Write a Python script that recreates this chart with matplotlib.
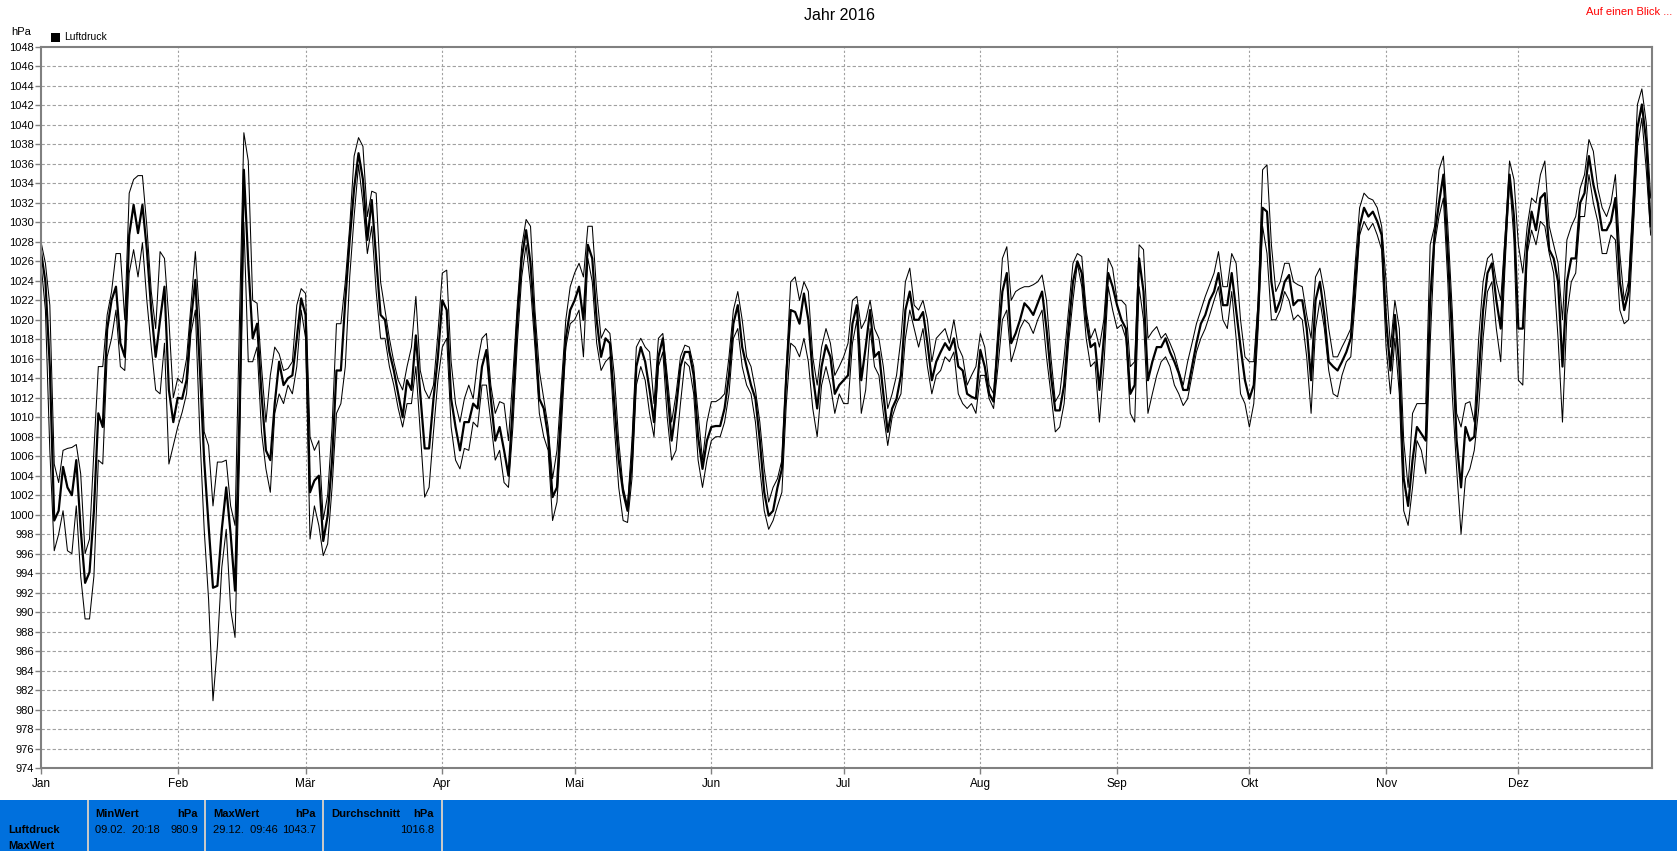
import matplotlib
matplotlib.use("Agg")
import matplotlib.pyplot as plt
from matplotlib.patches import Rectangle

W, H = 1677, 851

# Luftdruck 2016, Tageswerte (hPa), Tag 0 = 01.01.
druck_mittel = [
    1027.0, 1023.9, 1015.2, 999.4, 1000.4, 1004.9, 1002.8, 1002.0, 1005.6, 998.5,
    993.0, 994.1, 1000.4, 1010.4, 1009.0, 1019.0, 1022.0, 1023.4, 1017.6, 1016.2,
    1028.7, 1031.8, 1028.9, 1031.8, 1027.2, 1021.0, 1016.2, 1020.0, 1023.4, 1012.8,
    1009.5, 1012.0, 1011.9, 1013.8, 1020.0, 1024.1, 1015.2, 1005.6, 998.9, 992.5,
    992.7, 998.5, 1002.8, 998.0, 992.2, 1010.4, 1035.4, 1025.8, 1018.1, 1019.6,
    1012.4, 1006.6, 1005.6, 1011.4, 1015.7, 1013.3, 1014.0, 1014.3, 1018.1, 1022.2,
    1020.5, 1002.3, 1003.5, 1004.0, 997.3, 999.9, 1005.6, 1014.8, 1014.8, 1022.0,
    1028.2, 1033.5, 1037.1, 1034.4, 1028.2, 1032.3, 1026.3, 1020.5, 1020.0, 1016.7,
    1014.8, 1012.4, 1010.0, 1013.8, 1012.8, 1018.4, 1012.4, 1006.8, 1006.8, 1011.9,
    1016.2, 1022.0, 1021.0, 1011.9, 1009.0, 1006.6, 1009.5, 1009.5, 1011.4, 1010.9,
    1015.2, 1016.9, 1011.9, 1007.6, 1009.0, 1006.6, 1004.0, 1011.4, 1020.0, 1026.3,
    1029.2, 1025.8, 1019.1, 1011.9, 1010.9, 1008.0, 1001.8, 1002.8, 1011.4, 1018.1,
    1021.0, 1022.0, 1023.4, 1020.0, 1027.7, 1026.3, 1020.0, 1016.2, 1018.1, 1017.6,
    1011.4, 1005.6, 1002.3, 1000.4, 1005.6, 1015.2, 1017.2, 1015.7, 1012.8, 1009.5,
    1016.2, 1018.1, 1012.8, 1007.6, 1010.9, 1015.2, 1016.7, 1016.7, 1014.3, 1008.0,
    1004.7, 1007.6, 1009.0, 1009.1, 1009.1, 1010.9, 1014.3, 1019.6, 1021.5, 1017.2,
    1015.2, 1013.3, 1011.9, 1007.6, 1002.3, 999.9, 1000.4, 1002.8, 1004.7, 1014.3,
    1021.0, 1020.8, 1019.6, 1022.7, 1020.0, 1014.3, 1010.9, 1015.2, 1017.4, 1016.2,
    1012.4, 1013.3, 1013.8, 1014.3, 1019.6, 1021.5, 1013.8, 1017.2, 1021.0, 1016.2,
    1016.7, 1012.4, 1008.5, 1010.9, 1011.9, 1014.3, 1021.0, 1022.9, 1020.0, 1020.0,
    1020.8, 1017.6, 1013.8, 1015.7, 1016.7, 1017.6, 1016.9, 1018.1, 1015.2, 1014.8,
    1012.4, 1012.1, 1011.9, 1016.9, 1015.2, 1012.4, 1011.6, 1017.6, 1022.9, 1024.8,
    1017.6, 1018.6, 1020.0, 1021.7, 1021.2, 1020.5, 1021.7, 1022.9, 1019.1, 1014.3,
    1010.7, 1010.7, 1013.3, 1019.1, 1023.9, 1026.0, 1024.8, 1020.0, 1017.2, 1017.6,
    1012.8, 1018.1, 1024.8, 1023.4, 1021.5, 1020.0, 1019.1, 1012.4, 1013.3, 1026.3,
    1022.9, 1013.8, 1015.7, 1017.2, 1017.2, 1018.1, 1016.7, 1015.7, 1014.5, 1012.8,
    1012.8, 1015.2, 1017.6, 1019.6, 1020.5, 1022.0, 1022.9, 1024.8, 1021.5, 1021.5,
    1024.8, 1021.0, 1017.2, 1013.8, 1011.9, 1013.3, 1021.0, 1031.5, 1031.1, 1023.9,
    1020.8, 1022.0, 1023.9, 1024.6, 1021.5, 1022.0, 1022.0, 1019.1, 1013.8, 1022.0,
    1023.9, 1020.5, 1015.7, 1015.2, 1014.8, 1015.7, 1016.7, 1018.1, 1023.9, 1029.6,
    1031.5, 1030.6, 1031.1, 1030.1, 1028.7, 1020.0, 1014.8, 1020.5, 1015.2, 1003.7,
    1000.9, 1005.6, 1009.0, 1008.3, 1007.6, 1022.0, 1028.7, 1032.0, 1034.9, 1026.8,
    1018.1, 1007.6, 1002.8, 1009.0, 1007.6, 1008.0, 1014.3, 1021.0, 1024.8, 1025.8,
    1022.0, 1019.1, 1027.7, 1034.9, 1030.6, 1019.1, 1019.1, 1027.7, 1031.1, 1029.2,
    1032.5, 1033.0, 1027.2, 1026.3, 1023.9, 1015.2, 1023.9, 1026.3, 1026.3, 1032.0,
    1033.0, 1036.8, 1033.9, 1032.0, 1029.2, 1029.2, 1030.1, 1032.5, 1023.9, 1021.0,
    1022.9, 1030.6, 1039.7, 1042.1, 1038.3, 1029.6,
]

druck_max = [
    1028.0, 1025.8, 1021.5, 1005.2, 1003.3, 1006.6, 1006.8, 1006.9, 1007.2, 1004.2,
    996.0, 997.5, 1006.6, 1015.2, 1015.2, 1020.5, 1022.9, 1026.8, 1026.8, 1020.0,
    1033.0, 1034.4, 1034.8, 1034.8, 1029.6, 1022.9, 1019.1, 1027.0, 1026.3, 1020.0,
    1012.0, 1014.0, 1013.5, 1016.0, 1021.5, 1027.0, 1020.0, 1008.5, 1007.1, 1000.9,
    1005.4, 1005.4, 1005.6, 1000.9, 998.9, 1020.0, 1039.2, 1036.3, 1022.0, 1021.7,
    1015.2, 1009.5, 1014.3, 1017.2, 1016.5, 1014.8, 1015.0, 1015.7, 1021.5, 1023.2,
    1022.7, 1008.0, 1006.6, 1007.6, 999.5, 1002.0, 1009.0, 1019.6, 1019.6, 1023.9,
    1029.6, 1036.8, 1038.7, 1037.8, 1030.6, 1033.2, 1033.0, 1023.9, 1021.0, 1018.1,
    1015.7, 1013.8, 1012.8, 1015.2, 1017.2, 1022.4, 1014.8, 1012.8, 1011.9, 1013.3,
    1018.6, 1024.8, 1025.1, 1015.7, 1011.4, 1009.5, 1011.9, 1013.3, 1011.9, 1015.7,
    1018.1, 1018.6, 1013.3, 1010.4, 1011.6, 1011.4, 1007.6, 1014.3, 1021.5, 1027.5,
    1030.3, 1029.6, 1021.0, 1014.8, 1011.9, 1009.0, 1003.7, 1006.6, 1013.3, 1020.0,
    1023.4, 1024.8, 1025.8, 1024.4, 1029.6, 1029.6, 1022.9, 1018.1, 1019.1, 1018.6,
    1014.3, 1007.6, 1002.8, 1000.9, 1007.6, 1017.2, 1018.1, 1017.2, 1016.7, 1011.4,
    1018.1, 1018.6, 1014.3, 1009.5, 1012.4, 1016.2, 1017.4, 1017.2, 1015.2, 1010.4,
    1005.6, 1009.5, 1011.6, 1011.6, 1011.9, 1012.4, 1016.2, 1021.0, 1022.9, 1020.0,
    1016.2, 1015.2, 1012.8, 1009.5, 1004.7, 1001.3, 1002.8, 1003.7, 1005.6, 1015.2,
    1023.9, 1024.4, 1022.0, 1023.9, 1022.9, 1016.2, 1013.3, 1017.2, 1019.1, 1017.6,
    1014.3, 1015.2, 1016.2, 1017.6, 1022.0, 1022.4, 1019.1, 1020.0, 1022.0, 1019.1,
    1018.1, 1015.2, 1010.9, 1012.4, 1014.3, 1018.1, 1023.9, 1025.3, 1021.5, 1021.0,
    1022.0, 1020.0, 1015.7, 1018.1, 1018.6, 1019.1, 1017.6, 1020.0, 1017.2, 1016.2,
    1013.3, 1014.3, 1015.2, 1018.6, 1017.2, 1013.3, 1012.4, 1019.1, 1026.3, 1027.5,
    1022.0, 1022.9, 1023.2, 1023.4, 1023.4, 1023.6, 1023.9, 1024.6, 1022.0, 1016.2,
    1011.6, 1012.4, 1016.2, 1021.0, 1025.8, 1026.8, 1026.5, 1021.0, 1018.1, 1019.1,
    1017.2, 1020.0, 1026.3, 1025.3, 1022.0, 1022.0, 1021.5, 1015.2, 1015.7, 1027.7,
    1027.2, 1018.1, 1018.8, 1019.3, 1018.1, 1018.6, 1017.6, 1016.5, 1014.8, 1013.3,
    1015.7, 1017.6, 1019.6, 1021.0, 1022.4, 1023.6, 1024.8, 1027.0, 1023.4, 1023.4,
    1026.8, 1025.8, 1020.0, 1016.2, 1015.7, 1015.7, 1022.0, 1035.4, 1035.9, 1027.7,
    1022.9, 1023.9, 1025.8, 1025.8, 1023.9, 1023.6, 1023.4, 1020.5, 1018.1, 1024.4,
    1025.3, 1022.9, 1019.1, 1016.2, 1016.2, 1017.2, 1018.1, 1019.1, 1025.8, 1031.5,
    1033.0, 1032.5, 1032.3, 1031.5, 1029.6, 1024.0, 1017.2, 1022.0, 1019.1, 1007.6,
    1002.8, 1010.4, 1011.4, 1011.4, 1011.4, 1027.7, 1029.6, 1035.4, 1036.8, 1029.6,
    1021.0, 1010.4, 1009.0, 1011.4, 1011.6, 1009.5, 1018.1, 1023.9, 1026.3, 1026.8,
    1023.9, 1022.0, 1028.7, 1036.3, 1034.4, 1027.7, 1024.8, 1029.6, 1032.5, 1032.0,
    1034.9, 1036.3, 1029.6, 1027.7, 1025.8, 1020.0, 1028.2, 1029.6, 1030.6, 1033.5,
    1034.9, 1038.5, 1037.3, 1033.5, 1031.5, 1030.6, 1032.0, 1034.9, 1026.8, 1022.0,
    1024.0, 1032.5, 1042.1, 1043.7, 1040.2, 1032.5,
]

druck_min = [
    1025.8, 1021.0, 1006.6, 996.3, 998.0, 1000.4, 996.3, 996.0, 1000.9, 993.7,
    989.3, 989.3, 993.7, 1005.6, 1005.2, 1016.2, 1018.1, 1021.0, 1015.2, 1014.8,
    1024.8, 1027.2, 1024.4, 1027.9, 1022.0, 1017.2, 1012.8, 1012.4, 1017.6, 1005.2,
    1007.1, 1009.0, 1010.5, 1012.4, 1018.6, 1021.0, 1008.5, 998.5, 991.3, 980.9,
    986.5, 994.6, 998.5, 990.3, 987.4, 1005.6, 1030.0, 1015.7, 1015.7, 1017.2,
    1008.5, 1004.7, 1002.3, 1010.4, 1012.4, 1011.4, 1013.3, 1012.4, 1015.2, 1021.0,
    1018.1, 997.5, 1000.9, 998.9, 995.8, 997.0, 1002.8, 1010.4, 1011.4, 1015.2,
    1024.4, 1030.6, 1035.9, 1032.0, 1026.8, 1029.6, 1022.9, 1018.1, 1018.1, 1015.2,
    1013.3, 1010.9, 1009.0, 1011.4, 1011.4, 1015.2, 1008.5, 1001.8, 1002.8, 1008.5,
    1013.8, 1017.2, 1018.1, 1009.0, 1005.6, 1004.7, 1006.8, 1006.6, 1009.5, 1009.0,
    1013.3, 1013.3, 1009.5, 1005.6, 1006.6, 1003.3, 1002.8, 1009.0, 1017.6, 1024.4,
    1027.7, 1023.4, 1017.2, 1010.4, 1008.0, 1006.6, 999.4, 1001.3, 1009.0, 1017.2,
    1019.6, 1020.0, 1021.0, 1016.2, 1026.3, 1023.9, 1017.6, 1014.8, 1015.7, 1016.2,
    1009.0, 1002.8, 999.4, 999.2, 1003.7, 1013.3, 1015.2, 1013.8, 1010.4, 1008.0,
    1015.2, 1016.7, 1010.0, 1005.6, 1006.6, 1011.4, 1015.7, 1015.2, 1012.4, 1005.6,
    1002.8, 1005.6, 1007.6, 1008.0, 1008.0, 1009.5, 1012.4, 1018.1, 1019.1, 1015.2,
    1013.3, 1012.4, 1009.5, 1004.7, 1000.4, 998.5, 999.4, 1000.9, 1002.3, 1011.4,
    1017.6, 1017.2, 1016.2, 1018.1, 1015.7, 1010.9, 1008.0, 1013.3, 1015.2, 1013.3,
    1010.4, 1012.4, 1011.4, 1011.4, 1017.6, 1020.0, 1010.4, 1012.8, 1019.1, 1015.2,
    1014.3, 1010.4, 1007.1, 1010.0, 1011.4, 1012.4, 1018.1, 1021.0, 1019.1, 1017.2,
    1019.1, 1015.2, 1012.4, 1014.3, 1014.8, 1016.2, 1015.7, 1016.7, 1012.4, 1011.4,
    1010.9, 1011.4, 1010.4, 1014.3, 1014.3, 1011.9, 1010.9, 1015.2, 1020.0, 1021.0,
    1015.7, 1017.2, 1019.1, 1020.0, 1019.6, 1018.6, 1020.0, 1021.0, 1016.2, 1012.4,
    1008.5, 1009.0, 1011.4, 1017.6, 1022.0, 1025.8, 1023.4, 1018.1, 1015.2, 1015.7,
    1009.5, 1015.2, 1023.4, 1021.0, 1019.1, 1019.5, 1018.1, 1010.4, 1009.5, 1023.4,
    1020.0, 1010.4, 1012.4, 1014.3, 1015.7, 1016.2, 1015.2, 1013.3, 1012.4, 1011.2,
    1011.9, 1014.3, 1016.7, 1018.1, 1019.1, 1020.5, 1022.0, 1023.4, 1020.0, 1019.1,
    1022.9, 1018.1, 1012.4, 1011.4, 1009.0, 1011.4, 1019.1, 1029.6, 1026.8, 1020.0,
    1020.0, 1021.0, 1022.9, 1022.0, 1020.0, 1020.5, 1020.0, 1016.2, 1010.4, 1019.1,
    1022.0, 1019.1, 1014.8, 1012.4, 1012.1, 1014.3, 1015.7, 1016.2, 1022.0, 1028.7,
    1030.1, 1029.2, 1029.9, 1028.7, 1027.2, 1017.2, 1012.4, 1018.1, 1012.4, 1000.4,
    998.9, 1002.8, 1007.6, 1006.6, 1004.2, 1017.6, 1027.7, 1030.6, 1032.5, 1023.9,
    1012.4, 1004.7, 998.0, 1003.7, 1004.7, 1006.6, 1010.9, 1018.1, 1022.9, 1023.9,
    1019.1, 1015.7, 1025.8, 1034.4, 1028.2, 1013.8, 1013.3, 1026.8, 1029.2, 1027.7,
    1030.1, 1029.6, 1026.8, 1024.8, 1018.1, 1009.5, 1020.5, 1023.9, 1024.8, 1030.6,
    1030.6, 1034.9, 1032.0, 1030.1, 1026.8, 1026.8, 1028.7, 1028.2, 1021.0, 1019.6,
    1020.0, 1028.7, 1037.8, 1040.7, 1035.4, 1028.7,
]

monate = ["Jan", "Feb", "Mär", "Apr", "Mai", "Jun", "Jul", "Aug", "Sep", "Okt", "Nov", "Dez"]
monat_start = [0, 31, 60, 91, 121, 152, 182, 213, 244, 274, 305, 335]

tage = list(range(len(druck_mittel)))

FONT = "Liberation Sans"
plt.rcParams["font.family"] = FONT

fig = plt.figure(figsize=(W / 100, H / 100), dpi=100)
fig.patch.set_facecolor("white")

def px(x, y):
    return x / W, 1 - y / H

# Achsen (Pixelrahmen aus dem Original)
left, right, top, bottom = 41, 1652, 47, 768
ax = fig.add_axes([left / W, 1 - bottom / H, (right - left) / W, (bottom - top) / H])

ax.plot(tage, druck_max, color="black", lw=0.75)
ax.plot(tage, druck_min, color="black", lw=0.75)
ax.plot(tage, druck_mittel, color="black", lw=1.6)

ax.set_xlim(0, 365.3)
ax.set_ylim(974, 1048)
ax.set_yticks(range(974, 1049, 2))
ax.set_xticks(monat_start)
ax.set_xticklabels(monate)

for y in range(976, 1048, 2):
    ax.axhline(y, color="#a0a0a0", lw=0.8, ls=(0, (3, 2)), zorder=0)
for x in monat_start[1:]:
    ax.axvline(x, color="#a0a0a0", lw=0.8, ls=(0, (2, 2)), zorder=0)

for s in ax.spines.values():
    s.set_color("#808080")
    s.set_linewidth(1.5)
ax.tick_params(axis="y", labelsize=8, length=4, width=1, color="#808080", pad=1)
ax.tick_params(axis="x", labelsize=8.5, length=4, width=1, color="#808080", pad=3)

# Kopfzeile
fig.text(*px(840, 15), "Jahr 2016", ha="center", va="center", fontsize=11.5)
fig.text(*px(1672, 12), "Auf einen Blick ...", ha="right", va="center", fontsize=8, color="red")
fig.text(*px(11, 32), "hPa", ha="left", va="center", fontsize=8)
fig.patches.append(Rectangle(px(51, 42), 9 / W, 9 / H, transform=fig.transFigure,
                             facecolor="black", edgecolor="none"))
fig.text(*px(64, 37), "Luftdruck", ha="left", va="center", fontsize=7.5)

# Fusszeile
blau = "#0070dd"
fig.patches.append(Rectangle((0, 0), 1, (H - 800) / H, transform=fig.transFigure,
                             facecolor=blau, edgecolor="none"))
for xs in [88, 205, 322.5, 441.5]:
    fig.patches.append(Rectangle(px(xs - 1, H), 2 / W, (H - 800) / H,
                                 transform=fig.transFigure, facecolor="#c8c8c8",
                                 edgecolor="none"))

fig.text(*px(8, 830), "Luftdruck", ha="left", va="center", fontsize=8, fontweight="bold")
fig.text(*px(8, 846), "MaxWert", ha="left", va="center", fontsize=8, fontweight="bold")

spalten = [
    (95, 198, "MinWert", "09.02.  20:18", "980.9"),
    (213, 316, "MaxWert", "29.12.  09:46", "1043.7"),
    (331, 434, "Durchschnitt", "", "1016.8"),
]
for x0, x1, kopf, zeit, wert in spalten:
    fig.text(*px(x0, 814), kopf, ha="left", va="center", fontsize=8, fontweight="bold")
    fig.text(*px(x1, 814), "hPa", ha="right", va="center", fontsize=8, fontweight="bold")
    if zeit:
        fig.text(*px(x0, 830), zeit, ha="left", va="center", fontsize=8)
    fig.text(*px(x1, 830), wert, ha="right", va="center", fontsize=8)

fig.savefig("out.png", dpi=100)
